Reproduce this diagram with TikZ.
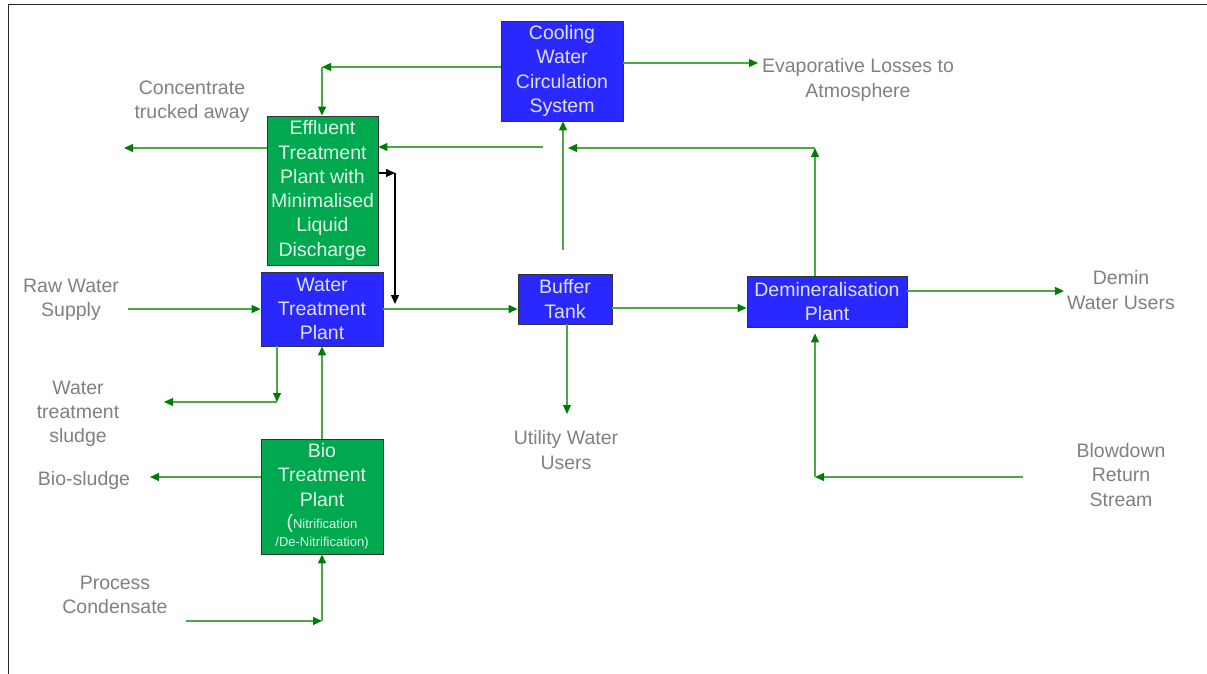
\documentclass[tikz,border=0pt]{standalone}
\usepackage{fontspec}
\setmainfont{Liberation Sans}
\usetikzlibrary{arrows.meta}
\definecolor{lg}{RGB}{70,170,70}
\definecolor{hg}{RGB}{0,125,0}
\definecolor{bluebox}{RGB}{40,40,255}
\definecolor{greenbox}{RGB}{0,168,80}
\definecolor{txt}{RGB}{128,128,128}
\definecolor{btxt}{RGB}{225,225,255}
\definecolor{gtxt}{RGB}{225,245,230}
\newcommand\dfont{\fontsize{19.5}{24.3}\selectfont}
\newcommand\sfont{\fontsize{13}{18}\selectfont}
\begin{document}
\begin{tikzpicture}[x=1pt,y=-1pt,
 box/.style={draw=black!80,line width=0.8pt,inner sep=0pt,align=center,font=\dfont},
 bbox/.style={box,fill=bluebox,text=btxt},
 gbox/.style={box,fill=greenbox,text=gtxt},
 lab/.style={text=txt,align=center,font=\dfont,inner sep=0pt},
 flow/.style={draw=lg,line width=1.2pt,-{Triangle[length=9pt,width=8pt,color=hg]}},
 blk/.style={draw=black,line width=1.2pt,-{Triangle[length=9pt,width=8pt]}}]
\useasboundingbox (0,0) rectangle (1207,674);
\draw[line width=1pt,black!85] (8,674) -- (8,5) -- (1207,5);

% boxes
\node[bbox,minimum width=122pt,minimum height=100pt] (cool) at (562,71) {Cooling\\Water\\Circulation\\System};
\node[gbox,minimum width=111pt,minimum height=149pt] (eff) at (322.5,190.5) {Effluent\\Treatment\\Plant with\\Minimalised\\Liquid\\Discharge};
\node[bbox,minimum width=122pt,minimum height=74pt] (wtp) at (322,309) {Water\\Treatment\\Plant};
\node[bbox,minimum width=94pt,minimum height=50pt] (buf) at (565,299) {Buffer\\Tank};
\node[bbox,minimum width=160pt,minimum height=51pt] (dem) at (827,301.5) {Demineralisation\\Plant};
\node[gbox,minimum width=122pt,minimum height=115pt] (bio) at (322,496.5) {Bio\\Treatment\\Plant\\[-2pt]{\dfont(}{\sfont Nitrification}\\[-6pt]{\sfont /De-Nitrification)}};

% labels
\node[lab] (conc) at (192,102) {Concentrate\\trucked away};
\node[lab] (evap) at (858,80) {Evaporative Losses to\\Atmosphere};
\node[lab] (raw) at (71,300) {Raw Water\\Supply};
\node[lab] (wts) at (78,414) {Water\\treatment\\sludge};
\node[lab] (bios) at (84,480) {Bio-sludge};
\node[lab] (proc) at (115,595) {Process\\Condensate};
\node[lab] (util) at (566,450) {Utility Water\\Users};
\node[lab] (demin) at (1121,290) {Demin\\Water Users};
\node[lab] (blow) at (1121,475) {Blowdown\\Return\\Stream};

% coordinates
\coordinate (c1) at (322,67);
\coordinate (concE) at (124,148);
\coordinate (retS) at (543,147);
\coordinate (c2) at (815,148);
\coordinate (retE) at (568,148);
\coordinate (cwS) at (563,250);
\coordinate (evE) at (758,63);
\coordinate (bk1) at (395,173);
\coordinate (bk2) at (395,304);
\coordinate (rawS) at (128,309);
\coordinate (c3) at (277,402);
\coordinate (wtsE) at (164,402);
\coordinate (biosE) at (150,477);
\coordinate (procS) at (186,621);
\coordinate (c4) at (322,621);
\coordinate (blS) at (1023,477);
\coordinate (c5) at (815,477);
\coordinate (demE) at (1064,291);
\coordinate (utilE) at (567,414);

% green flows
\draw[flow] (cool.west |- c1) -- (c1);
\draw[flow] (c1) -- (eff.north -| c1);
\draw[flow] (eff.west |- concE) -- (concE);
\draw[flow] (retS) -- (eff.east |- retS);
\draw[flow] (cwS) -- (cool.south -| cwS);
\draw[flow] (dem.north -| c2) -- (c2);
\draw[flow] (c2) -- (retE);
\draw[flow] (cool.east |- evE) -- (evE);
\draw[flow] (rawS) -- (wtp.west |- rawS);
\draw[flow] (wtp.east |- rawS) -- (buf.west |- rawS);
\draw[flow] (buf.east |- 0,308) -- (dem.west |- 0,308);
\draw[flow] (dem.east |- demE) -- (demE);
\draw[flow] (buf.south -| utilE) -- (utilE);
\draw[flow] (wtp.south -| c3) -- (c3);
\draw[flow] (c3) -- (wtsE);
\draw[flow] (bio.north) -- (wtp.south);
\draw[flow] (bio.west |- biosE) -- (biosE);
\draw[flow] (procS) -- (c4);
\draw[flow] (c4) -- (bio.south);
\draw[flow] (blS) -- (c5);
\draw[flow] (c5) -- ([yshift=-6pt]dem.south -| c5);

% black flow
\draw[blk] (eff.east |- bk1) -- (bk1);
\draw[blk] (bk1) -- (bk2);
\end{tikzpicture}
\end{document}
